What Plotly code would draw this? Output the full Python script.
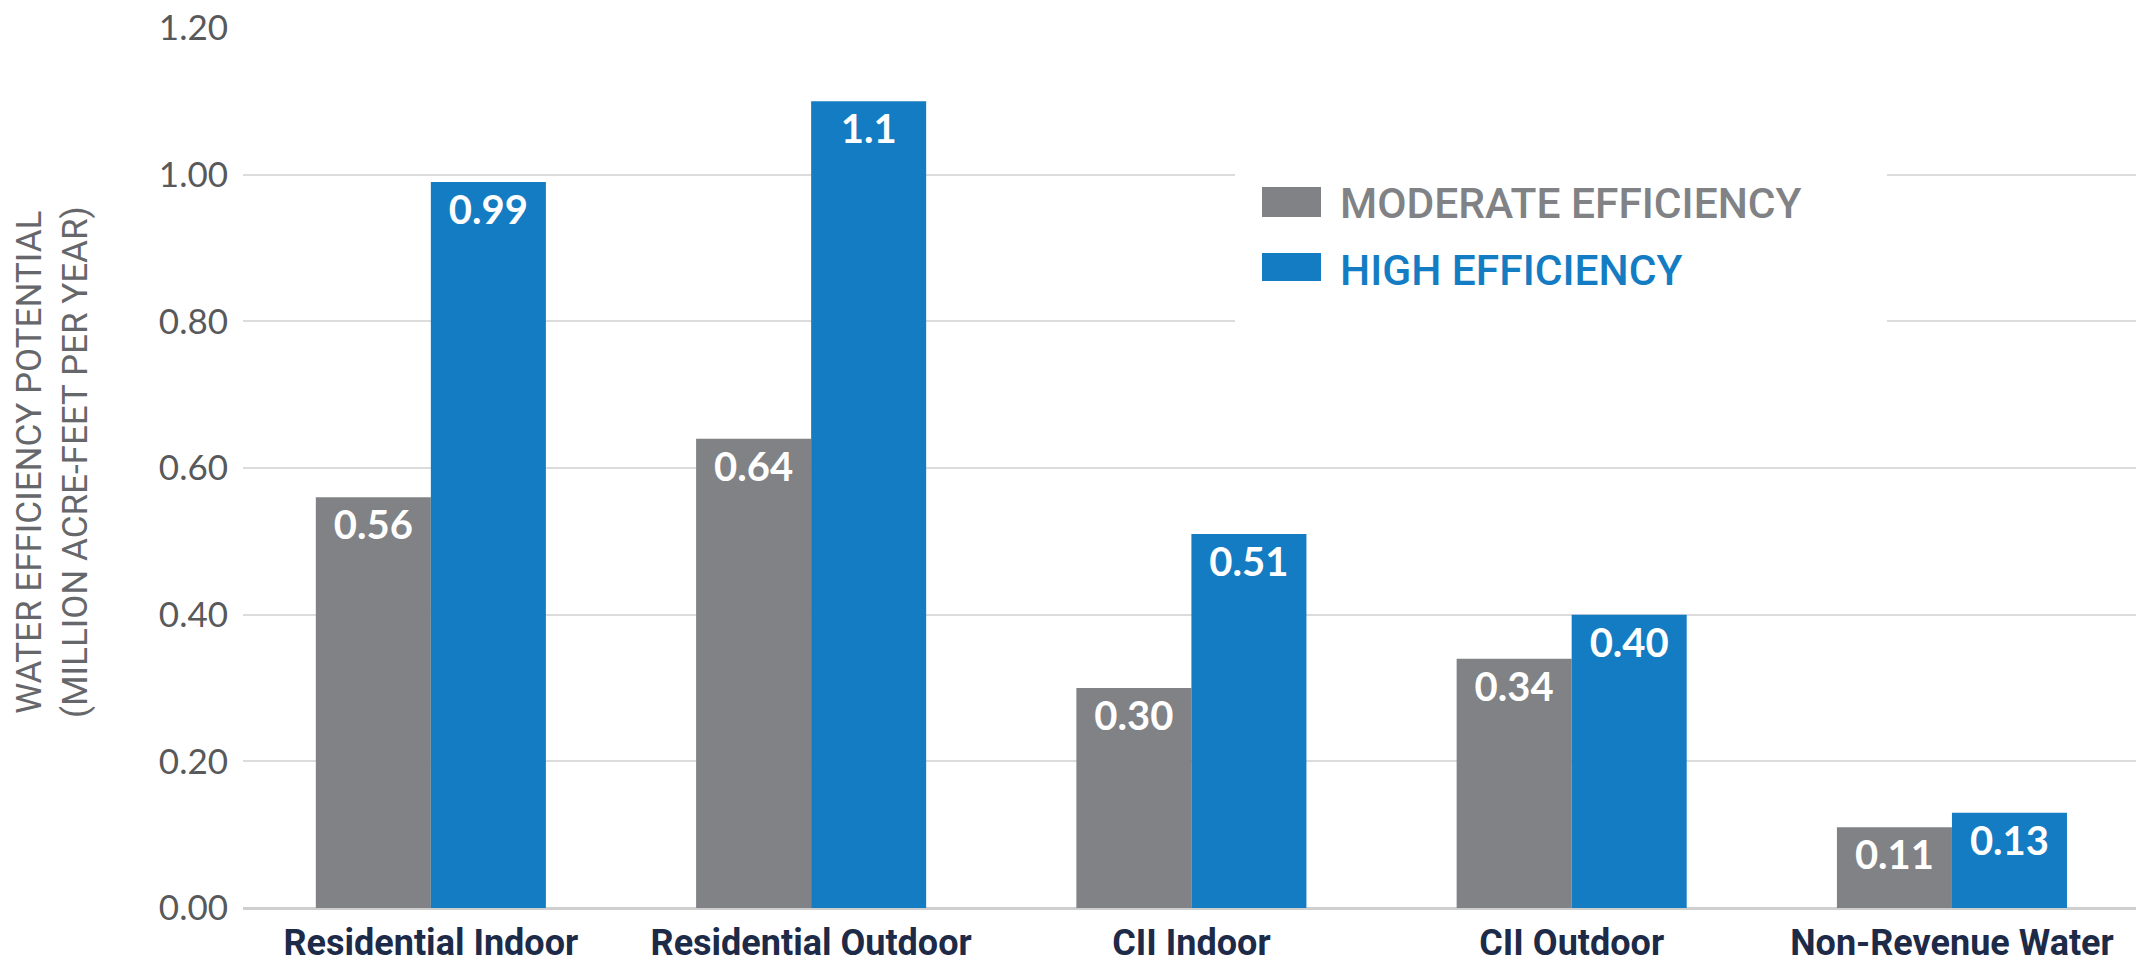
import plotly.graph_objects as go

categories = ["Residential Indoor", "Residential Outdoor", "CII Indoor", "CII Outdoor", "Non-Revenue Water"]
moderate = [0.56, 0.64, 0.30, 0.34, 0.11]
high = [0.99, 1.1, 0.51, 0.40, 0.13]
moderate_labels = ["0.56", "0.64", "0.30", "0.34", "0.11"]
high_labels = ["0.99", "1.1", "0.51", "0.40", "0.13"]
y_ticks = [0.0, 0.2, 0.4, 0.6, 0.8, 1.0, 1.2]
y_tick_text = ["0.00", "0.20", "0.40", "0.60", "0.80", "1.00", "1.20"]
series_names = ["MODERATE EFFICIENCY", "HIGH EFFICIENCY"]
y_title = "WATER EFFICIENCY POTENTIAL<br>(MILLION ACRE-FEET PER YEAR)"

GREY = "#808285"
BLUE = "#147cc2"
NAVY = "#1d2b48"
SANS = "Roboto, sans-serif"

W, H = 2136, 966
L, R, T, B = 243, 0, 28, 58
PW, PH = W - L - R, H - T - B


def px(x):
    return (x - L) / PW


def py(y):
    return (H - B - y) / PH


fig = go.Figure()
fig.add_trace(go.Bar(
    x=categories, y=moderate, name=series_names[0], marker_color=GREY,
    marker_line_width=0, text=moderate_labels, textposition="inside",
    insidetextanchor="end", textangle=0,
    textfont=dict(family="Lato, sans-serif", size=40, color="white", weight="bold"),
))
fig.add_trace(go.Bar(
    x=categories, y=high, name=series_names[1], marker_color=BLUE,
    marker_line_width=0, text=high_labels, textposition="inside",
    insidetextanchor="end", textangle=0,
    textfont=dict(family="Lato, sans-serif", size=40, color="white", weight="bold"),
))

shapes = [
    dict(type="rect", xref="paper", yref="paper", x0=px(1235), x1=px(1887),
         y0=py(345), y1=py(155), fillcolor="white", line_width=0, layer="above"),
    dict(type="rect", xref="paper", yref="paper", x0=px(1262), x1=px(1321),
         y0=py(217), y1=py(187), fillcolor=GREY, line_width=0, layer="above"),
    dict(type="rect", xref="paper", yref="paper", x0=px(1262), x1=px(1321),
         y0=py(281), y1=py(253), fillcolor=BLUE, line_width=0, layer="above"),
]
annotations = [
    dict(xref="paper", yref="paper", x=px(1338), y=py(204), xanchor="left", yanchor="middle",
         text=series_names[0], showarrow=False,
         font=dict(family=SANS, size=42.5, color=GREY, weight=500)),
    dict(xref="paper", yref="paper", x=px(1338), y=py(270), xanchor="left", yanchor="middle",
         text=series_names[1], showarrow=False,
         font=dict(family=SANS, size=42.5, color=BLUE, weight=500)),
    dict(xref="paper", yref="paper", x=px(52), y=py(462), xanchor="center", yanchor="middle",
         text=y_title, showarrow=False, textangle=-90,
         font=dict(family=SANS, size=35, color="#66676a", weight=400)),
]

fig.update_layout(
    width=W, height=H,
    margin=dict(l=L, r=R, t=T, b=B, pad=0, autoexpand=False),
    paper_bgcolor="white", plot_bgcolor="white",
    barmode="group", bargap=0.395, bargroupgap=0,
    showlegend=False,
    shapes=shapes, annotations=annotations,
    uniformtext=dict(mode=False),
)
fig.update_xaxes(
    range=[-0.494, 4.484], showgrid=False, showline=False, zeroline=False,
    ticks="", tickangle=0, automargin=False,
    tickfont=dict(family=SANS, size=36, color=NAVY, weight="bold"),
    ticklabelstandoff=10, fixedrange=True,
)
fig.update_yaxes(
    range=[0, 1.2], tickvals=y_ticks, ticktext=y_tick_text,
    showgrid=True, gridcolor="#dcdcdc", gridwidth=2,
    zeroline=True, zerolinecolor="#cfcfcf", zerolinewidth=3,
    showline=False, ticks="", ticklabelstandoff=14, automargin=False,
    tickfont=dict(family="Lato, sans-serif", size=35, color="#58595b"),
    fixedrange=True,
)

fig.write_html("out.html", config=dict(displayModeBar=False))
